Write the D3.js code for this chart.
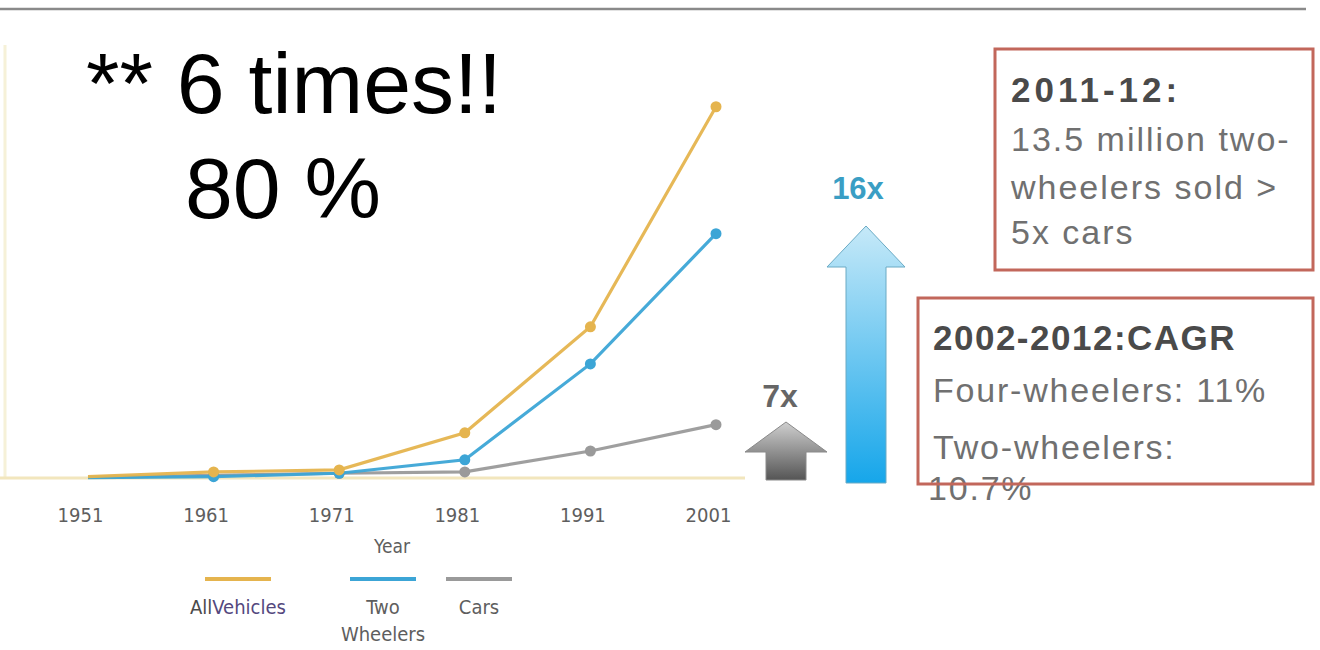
<!DOCTYPE html>
<html>
<head>
<meta charset="utf-8">
<script src="https://cdn.jsdelivr.net/npm/d3@7"></script>
<style>
  body { margin: 0; background: #fff; }
  svg { display: block; }
  text { font-family: "Liberation Sans", Arial, sans-serif; }
  .narrow { font-family: "Liberation Sans Narrow", "DejaVu Sans Condensed", "Liberation Sans", sans-serif; }
</style>
</head>
<body>
<div id="wrapper"></div>
<script>
// data (millions of vehicles, roughly)
const years = [1951, 1961, 1971, 1981, 1991, 2001]
const allVehicles = [0.2, 0.9, 1.2, 6.7, 22.4, 55.0]
const twoWheelers = [0.05, 0.2, 0.7, 2.7, 16.9, 36.2]
const cars = [0.1, 0.4, 0.7, 0.9, 4.0, 7.9]
const seriesNames = ["All Vehicles", "Two Wheelers", "Cars"]
const seriesColors = ["#e5b44e", "#3ca5d6", "#9a9a9a"]

const box1Lines = ["2011-12:", "13.5 million two-", "wheelers sold >", "5x cars"]
const box2Lines = ["2002-2012:CAGR", "Four-wheelers: 11%", "Two-wheelers:", "10.7%"]

// 1. dimensions
const dimensions = {
  width: 1320,
  height: 650,
  baseline: 478,
  plotTop: 73,
}

const wrapper = d3.select("#wrapper")
  .append("svg")
    .attr("width", dimensions.width)
    .attr("height", dimensions.height)

const defs = wrapper.append("defs")

// top rule
wrapper.append("line")
  .attr("x1", 0).attr("x2", 1306)
  .attr("y1", 9).attr("y2", 9)
  .attr("stroke", "#8a8a8a")
  .attr("stroke-width", 2.5)

// faint left edge
wrapper.append("line")
  .attr("x1", 5).attr("x2", 5)
  .attr("y1", 45).attr("y2", dimensions.baseline)
  .attr("stroke", "#f6f1d8")
  .attr("stroke-width", 3)

// 2. scales
const xScale = d3.scaleLinear()
  .domain([1951, 2001])
  .range([88, 716])

const yScale = d3.scaleLinear()
  .domain([0, 60])
  .range([dimensions.baseline, dimensions.plotTop])

// 3. axis
const xAxisGenerator = d3.axisBottom(xScale)
  .tickValues(years)
  .tickFormat(d3.format("d"))
  .tickSize(0)
  .tickPadding(30)

const xAxis = wrapper.append("g")
  .attr("transform", `translate(0, ${dimensions.baseline})`)
  .call(xAxisGenerator)

xAxis.select(".domain").remove()
xAxis.selectAll("text")
  .attr("class", "narrow")
  .attr("dx", -8)
  .style("font-size", "20px")
  .attr("fill", "#5e5e5e")

wrapper.append("line")
  .attr("x1", 0).attr("x2", 745)
  .attr("y1", dimensions.baseline).attr("y2", dimensions.baseline)
  .attr("stroke", "#f2e6bd")
  .attr("stroke-width", 3)

wrapper.append("text")
  .attr("class", "narrow")
  .attr("x", 392).attr("y", 553)
  .attr("text-anchor", "middle")
  .style("font-size", "19px")
  .attr("fill", "#5e5e5e")
  .text("Year")

// 4. lines
const seriesData = [cars, twoWheelers, allVehicles]
const seriesOrder = [2, 1, 0]
const lineGenerator = d3.line()
  .x((d, i) => xScale(years[i]))
  .y(d => yScale(d))

seriesData.forEach((values, k) => {
  const color = seriesColors[seriesOrder[k]]
  wrapper.append("path")
    .datum(values)
    .attr("d", lineGenerator)
    .attr("fill", "none")
    .attr("stroke", color)
    .attr("stroke-width", 3.2)
    .attr("opacity", 0.95)

  wrapper.append("g").selectAll("circle")
    .data(values.slice(1))
    .join("circle")
      .attr("cx", (d, i) => xScale(years[i + 1]))
      .attr("cy", d => yScale(d))
      .attr("r", 5.5)
      .attr("fill", color)
})

// 5. legend
const legendX = [238, 383, 479]
const legend = wrapper.append("g")
legendX.forEach((x, i) => {
  legend.append("line")
    .attr("x1", x - 33).attr("x2", x + 33)
    .attr("y1", 579).attr("y2", 579)
    .attr("stroke", seriesColors[i])
    .attr("stroke-width", 4)
})
const allLabel = legend.append("text")
  .attr("class", "narrow")
  .attr("x", legendX[0]).attr("y", 614)
  .attr("text-anchor", "middle")
  .style("font-size", "20px")
allLabel.append("tspan").attr("fill", "#4a4a4a").text("All")
allLabel.append("tspan").attr("fill", "#54487e").text("Vehicles")

legend.append("text")
  .attr("class", "narrow")
  .attr("x", legendX[1]).attr("y", 614)
  .attr("text-anchor", "middle")
  .style("font-size", "20px")
  .attr("fill", "#5e5e5e")
  .text("Two")
legend.append("text")
  .attr("class", "narrow")
  .attr("x", legendX[1]).attr("y", 641)
  .attr("text-anchor", "middle")
  .style("font-size", "20px")
  .attr("fill", "#5e5e5e")
  .text("Wheelers")
legend.append("text")
  .attr("class", "narrow")
  .attr("x", legendX[2]).attr("y", 614)
  .attr("text-anchor", "middle")
  .style("font-size", "20px")
  .attr("fill", "#5e5e5e")
  .text("Cars")

// 6. growth arrows
const greyGrad = defs.append("linearGradient")
  .attr("id", "greyGrad").attr("x1", 0).attr("y1", 0).attr("x2", 0).attr("y2", 1)
greyGrad.append("stop").attr("offset", "0%").attr("stop-color", "#cfcfcf")
greyGrad.append("stop").attr("offset", "100%").attr("stop-color", "#555")

const blueGrad = defs.append("linearGradient")
  .attr("id", "blueGrad").attr("x1", 0).attr("y1", 0).attr("x2", 0).attr("y2", 1)
blueGrad.append("stop").attr("offset", "0%").attr("stop-color", "#c6e9f8")
blueGrad.append("stop").attr("offset", "100%").attr("stop-color", "#16a6ea")

function arrowPath(cx, top, headBase, bottom, headHalf, shaftHalf) {
  return `M${cx},${top} L${cx + headHalf},${headBase} L${cx + shaftHalf},${headBase}
    L${cx + shaftHalf},${bottom} L${cx - shaftHalf},${bottom} L${cx - shaftHalf},${headBase}
    L${cx - headHalf},${headBase} Z`
}

wrapper.append("path")
  .attr("d", arrowPath(786, 422, 452, 480, 41, 20))
  .attr("fill", "url(#greyGrad)")
  .attr("stroke", "#8a8a8a")
  .attr("stroke-width", 1)

wrapper.append("path")
  .attr("d", arrowPath(866, 226, 267, 483, 39, 20))
  .attr("fill", "url(#blueGrad)")
  .attr("stroke", "#6aaac4")
  .attr("stroke-width", 1)

wrapper.append("text")
  .attr("x", 780).attr("y", 407)
  .attr("text-anchor", "middle")
  .style("font-size", "32px")
  .style("font-weight", "bold")
  .attr("fill", "#666")
  .text("7x")

wrapper.append("text")
  .attr("x", 858).attr("y", 199)
  .attr("text-anchor", "middle")
  .style("font-size", "31px")
  .style("font-weight", "bold")
  .attr("fill", "#3a9ec4")
  .text("16x")

// 7. annotation boxes
const box1Y = [102, 151, 199, 244]
box1Lines.forEach((t, i) => {
  wrapper.append("text")
    .attr("x", 1011).attr("y", box1Y[i])
    .style("font-size", i === 0 ? "35px" : "34px")
    .style("font-weight", i === 0 ? "bold" : "normal")
    .style("letter-spacing", i === 0 ? "4px" : "2px")
    .attr("fill", i === 0 ? "#4a4a4a" : "#707070")
    .text(t)
})
wrapper.append("rect")
  .attr("x", 995).attr("y", 49)
  .attr("width", 318).attr("height", 221)
  .attr("fill", "none")
  .attr("stroke", "#c2675b")
  .attr("stroke-width", 3)

const box2Y = [350, 402, 459, 500]
const box2X = [933, 933, 933, 928]
box2Lines.forEach((t, i) => {
  wrapper.append("text")
    .attr("x", box2X[i]).attr("y", box2Y[i])
    .style("font-size", i === 0 ? "35px" : "34px")
    .style("font-weight", i === 0 ? "bold" : "normal")
    .style("letter-spacing", i === 0 ? "1.5px" : "1.8px")
    .attr("fill", i === 0 ? "#4a4a4a" : "#707070")
    .text(t)
})
wrapper.append("rect")
  .attr("x", 918).attr("y", 298)
  .attr("width", 395).attr("height", 186)
  .attr("fill", "none")
  .attr("stroke", "#c2675b")
  .attr("stroke-width", 3)

// 8. overlaid headline
wrapper.append("text")
  .attr("x", 86).attr("y", 113)
  .style("font-size", "86px")
  .attr("fill", "#000")
  .text("** 6 times!!")

wrapper.append("text")
  .attr("x", 185).attr("y", 218)
  .style("font-size", "86px")
  .attr("fill", "#000")
  .text("80 %")
</script>
</body>
</html>
